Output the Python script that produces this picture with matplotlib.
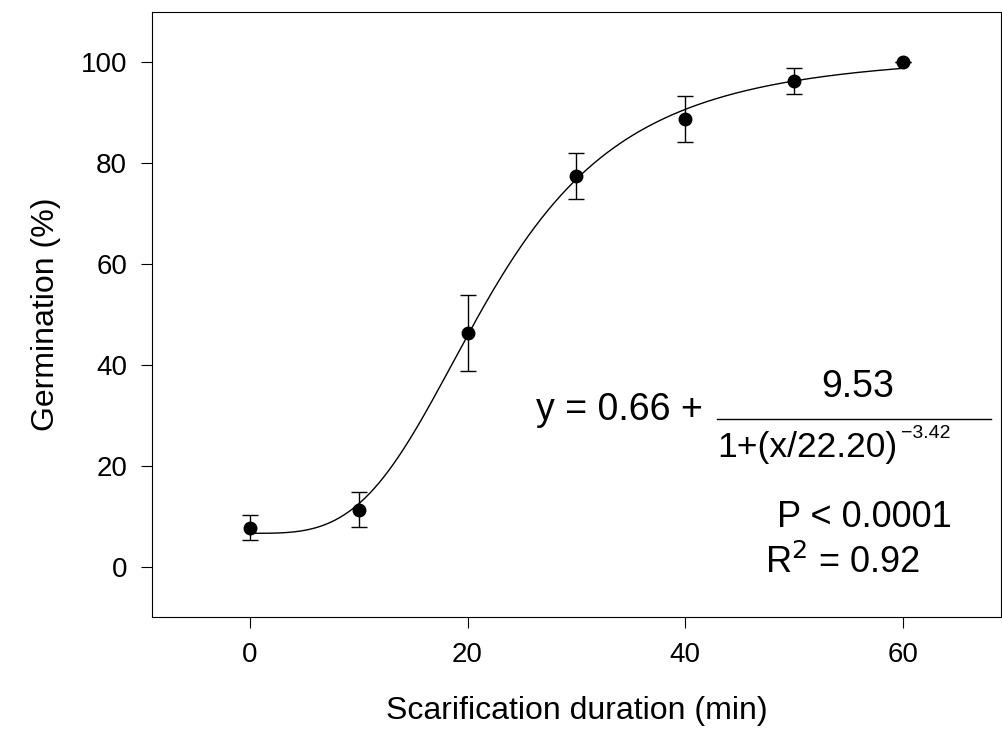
import numpy as np
import matplotlib
matplotlib.use("Agg")
import matplotlib.pyplot as plt

plt.rcParams['font.family'] = ['Liberation Sans', 'DejaVu Sans']

duration = [0, 10, 20, 30, 40, 50, 60]
germ = [7.7, 11.3, 46.3, 77.5, 88.8, 96.3, 100.0]
err = [2.5, 3.5, 7.5, 4.5, 4.5, 2.5, 0.0]
a, b, x0, p = 6.6, 95.3, 22.20, 3.42   # fitted sigmoid (y in %)

fig = plt.figure(figsize=(10.02, 7.44), dpi=100)
ax = fig.add_axes([0.1517, 0.1707, 0.847, 0.8132])

xs = np.linspace(0.01, 60, 400)
ax.plot(xs, a + b / (1 + (xs / x0) ** (-p)), color="k", lw=1)
ax.errorbar(duration, germ, yerr=err, fmt="o", color="k", ms=9,
            ecolor="k", elinewidth=1, capsize=6, capthick=1)

ax.set_xlim(-9, 69); ax.set_ylim(-10, 110)
ax.set_xticks([0, 20, 40, 60]); ax.set_yticks([0, 20, 40, 60, 80, 100])
ax.tick_params(direction="out", length=8, pad=10, labelsize=20)
ax.set_xlabel("Scarification duration (min)", fontsize=23, labelpad=20)
ax.set_ylabel("Germination (%)", fontsize=23, labelpad=14)

fig.text(0.535, 0.449, "y = 0.66 +", fontsize=27, ha="left", va="center")
fig.add_artist(plt.Line2D([0.716, 0.989], [0.437, 0.437], color="k", lw=1))
fig.text(0.856, 0.480, "9.53", fontsize=27, ha="center", va="center")
fig.text(0.716, 0.398, "1+(x/22.20)", fontsize=25.5, ha="left", va="center")
fig.text(0.899, 0.418, "\u22123.42", fontsize=14, ha="left", va="center")
fig.text(0.775, 0.305, "P < 0.0001", fontsize=26, ha="left", va="center")
fig.text(0.763, 0.243, "R$^2$ = 0.92", fontsize=26, ha="left", va="center")

fig.savefig("out.png", dpi=100)
